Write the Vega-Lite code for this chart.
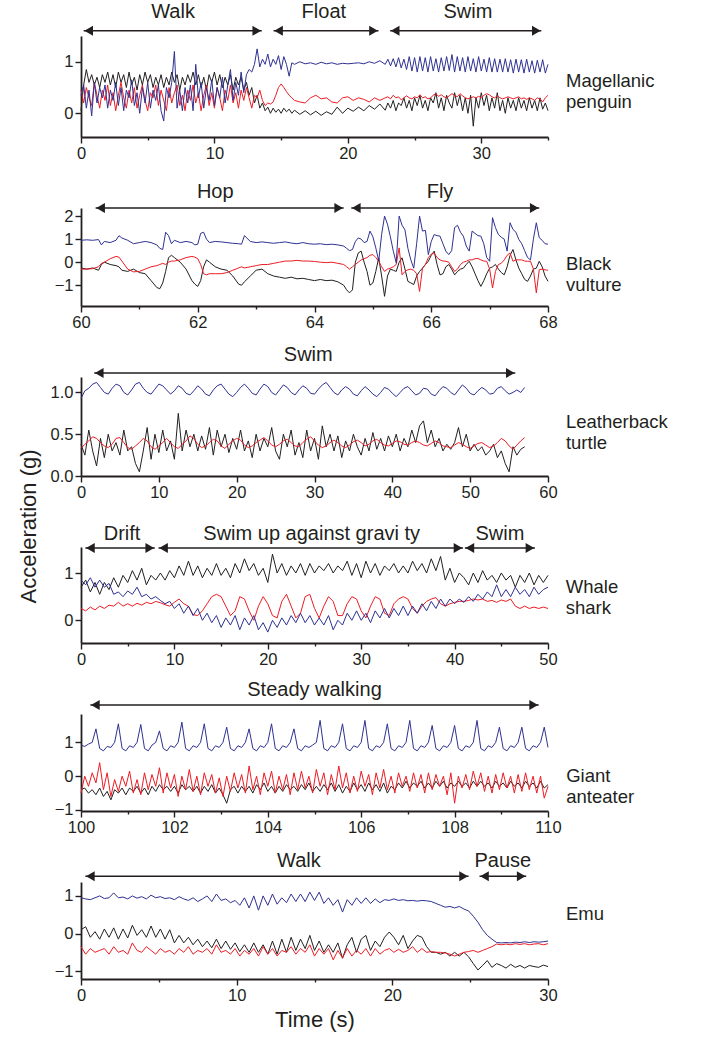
{
"$schema":"https://vega.github.io/schema/vega-lite/v6.json",
"padding":{"left":16,"top":2,"right":2,"bottom":2},
"bounds":"flush",
"spacing":71,
"config":{"view":{"stroke":null},"font":"Liberation Sans",
"axis":{"grid":false,"domainColor":"#231f20","domainWidth":1.8,"tickColor":"#231f20","tickWidth":1.4,"labelFontSize":16.5,"labelColor":"#231f20","labelFont":"Liberation Sans","titleFont":"Liberation Sans","titleFontWeight":"normal","titleColor":"#231f20","labelOverlap":false,"labelBound":false,"labelFlush":false},
"axisY":{"labelOverlap":false},
"text":{"font":"Liberation Sans","color":"#231f20"}},
"vconcat":[
{"width":467,"height":101,
"layer":[
{"data":{"values":[{"t":0,"b":0.35,"r":0.45,"k":0.05},{"t":0.2,"b":0.55,"r":0.2,"k":0.55},{"t":0.4,"b":0.1,"r":0.5,"k":0.85},{"t":0.6,"b":0.45,"r":0.3,"k":0.6},{"t":0.8,"b":-0.05,"r":0.15,"k":0.75},{"t":1,"b":0.6,"r":0.6,"k":0.55},{"t":1.2,"b":0.2,"r":0.35,"k":0.7},{"t":1.4,"b":0.5,"r":0.1,"k":0.5},{"t":1.6,"b":0.3,"r":0.45,"k":0.75},{"t":1.8,"b":0.55,"r":0.25,"k":0.6},{"t":2,"b":0.1,"r":0.55,"k":0.8},{"t":2.2,"b":0.45,"r":0.15,"k":0.55},{"t":2.4,"b":0.25,"r":0.4,"k":0.75},{"t":2.6,"b":0.6,"r":0.05,"k":0.5},{"t":2.8,"b":0.15,"r":0.35,"k":0.8},{"t":3,"b":0.5,"r":0.6,"k":0.6},{"t":3.2,"b":0.05,"r":0.3,"k":0.75},{"t":3.4,"b":0.45,"r":0.1,"k":0.5},{"t":3.6,"b":0.3,"r":0.45,"k":0.8},{"t":3.8,"b":0.65,"r":0.2,"k":0.55},{"t":4,"b":0.15,"r":0.5,"k":0.7},{"t":4.2,"b":0.4,"r":0.1,"k":0.45},{"t":4.4,"b":0,"r":0.35,"k":0.75},{"t":4.6,"b":0.5,"r":0.55,"k":0.55},{"t":4.8,"b":0.2,"r":0.25,"k":0.8},{"t":5,"b":0.6,"r":0.05,"k":0.6},{"t":5.2,"b":0.1,"r":0.4,"k":0.75},{"t":5.4,"b":0.45,"r":0.3,"k":0.5},{"t":5.6,"b":0.25,"r":0.55,"k":0.7},{"t":5.8,"b":0.55,"r":0.15,"k":0.55},{"t":6,"b":0.05,"r":0.45,"k":0.75},{"t":6.2,"b":-0.15,"r":0.25,"k":0.5},{"t":6.4,"b":0.5,"r":0.05,"k":0.7},{"t":6.6,"b":0.3,"r":0.5,"k":0.55},{"t":6.8,"b":0.6,"r":0.2,"k":0.8},{"t":7,"b":1.2,"r":0.4,"k":0.6},{"t":7.2,"b":0.1,"r":0.55,"k":0.75},{"t":7.4,"b":0.45,"r":0.15,"k":0.45},{"t":7.6,"b":0.05,"r":0.35,"k":0.7},{"t":7.8,"b":0.5,"r":0.05,"k":0.55},{"t":8,"b":0.2,"r":0.45,"k":0.75},{"t":8.2,"b":0.55,"r":0.25,"k":0.6},{"t":8.4,"b":0.05,"r":0.55,"k":0.8},{"t":8.6,"b":0.95,"r":0.2,"k":0.55},{"t":8.8,"b":0.3,"r":0.4,"k":0.75},{"t":9,"b":0.6,"r":0.05,"k":0.5},{"t":9.2,"b":0.1,"r":0.35,"k":0.7},{"t":9.4,"b":0.5,"r":0.55,"k":0.45},{"t":9.6,"b":0.25,"r":0.15,"k":0.75},{"t":9.8,"b":0.65,"r":0.4,"k":0.6},{"t":10,"b":0.15,"r":0.1,"k":0.8},{"t":10.2,"b":0.5,"r":0.5,"k":0.55},{"t":10.4,"b":0.3,"r":0.3,"k":0.75},{"t":10.6,"b":0.7,"r":0.05,"k":0.5},{"t":10.8,"b":0.2,"r":0.45,"k":0.7},{"t":11,"b":0.55,"r":0.25,"k":0.55},{"t":11.2,"b":0.85,"r":0.55,"k":0.75},{"t":11.4,"b":0.25,"r":0.2,"k":0.45},{"t":11.6,"b":0.6,"r":0.4,"k":0.7},{"t":11.8,"b":0.35,"r":0.1,"k":0.55},{"t":12,"b":0.8,"r":0.45,"k":0.7},{"t":12.2,"b":0.4,"r":0.25,"k":0.45},{"t":12.4,"b":0.75,"r":0.5,"k":0.6},{"t":12.6,"b":0.85,"r":0.3,"k":0.35},{"t":12.8,"b":0.8,"r":0.1,"k":0.5},{"t":13,"b":0.95,"r":0.35,"k":0.2},{"t":13.2,"b":1.25,"r":0.3,"k":0.35},{"t":13.4,"b":0.9,"r":0.45,"k":0.1},{"t":13.6,"b":1.05,"r":0.25,"k":0.2},{"t":13.8,"b":0.95,"r":0.15,"k":0.05},{"t":14,"b":1.15,"r":0.2,"k":0.12},{"t":14.2,"b":0.9,"r":0.18,"k":0},{"t":14.4,"b":1.05,"r":0.22,"k":0.1},{"t":14.6,"b":0.95,"r":0.35,"k":0.02},{"t":14.8,"b":1.12,"r":0.5,"k":0.08},{"t":15,"b":0.85,"r":0.57,"k":0},{"t":15.2,"b":1.1,"r":0.5,"k":0.1},{"t":15.4,"b":0.95,"r":0.42,"k":0.03},{"t":15.6,"b":0.72,"r":0.35,"k":0.08},{"t":15.8,"b":0.98,"r":0.3,"k":0},{"t":16,"b":0.95,"r":0.25,"k":0.06},{"t":16.4,"b":1,"r":0.22,"k":-0.02},{"t":16.8,"b":0.96,"r":0.2,"k":0.05},{"t":17.2,"b":0.98,"r":0.3,"k":-0.03},{"t":17.6,"b":0.95,"r":0.35,"k":0.04},{"t":18,"b":0.99,"r":0.28,"k":-0.04},{"t":18.4,"b":0.96,"r":0.3,"k":0.03},{"t":18.8,"b":0.98,"r":0.22,"k":-0.02},{"t":19.2,"b":0.95,"r":0.2,"k":0.12},{"t":19.6,"b":0.97,"r":0.3,"k":0},{"t":20,"b":0.96,"r":0.32,"k":0.1},{"t":20.4,"b":0.97,"r":0.25,"k":0.04},{"t":20.8,"b":0.98,"r":0.3,"k":0.12},{"t":21.2,"b":0.96,"r":0.27,"k":0.05},{"t":21.6,"b":1,"r":0.22,"k":0.15},{"t":22,"b":0.97,"r":0.3,"k":0.08},{"t":22.4,"b":1.02,"r":0.25,"k":0.18},{"t":22.8,"b":0.95,"r":0.3,"k":0.06},{"t":23,"b":1.05,"r":0.32,"k":0.2},{"t":23.2,"b":0.92,"r":0.28,"k":0.1},{"t":23.4,"b":1.06,"r":0.35,"k":0.25},{"t":23.6,"b":0.9,"r":0.3,"k":0.05},{"t":23.8,"b":1.08,"r":0.32,"k":0.2},{"t":24,"b":0.88,"r":0.26,"k":0.15},{"t":24.2,"b":1.05,"r":0.3,"k":0.3},{"t":24.4,"b":0.85,"r":0.34,"k":0.1},{"t":24.6,"b":1.1,"r":0.3,"k":0.25},{"t":24.8,"b":0.82,"r":0.28,"k":0.05},{"t":25,"b":1.08,"r":0.32,"k":0.3},{"t":25.2,"b":0.8,"r":0.3,"k":0.15},{"t":25.4,"b":1.1,"r":0.36,"k":0.35},{"t":25.6,"b":0.82,"r":0.3,"k":0.1},{"t":25.8,"b":1.08,"r":0.32,"k":0.25},{"t":26,"b":0.8,"r":0.28,"k":0.05},{"t":26.2,"b":1.1,"r":0.3,"k":0.3},{"t":26.4,"b":0.82,"r":0.35,"k":0.2},{"t":26.6,"b":1.06,"r":0.38,"k":0.4},{"t":26.8,"b":0.8,"r":0.33,"k":0.1},{"t":27,"b":1.08,"r":0.36,"k":0.3},{"t":27.2,"b":0.82,"r":0.32,"k":0.05},{"t":27.4,"b":1.1,"r":0.3,"k":0.35},{"t":27.6,"b":0.83,"r":0.34,"k":0.2},{"t":27.8,"b":1.14,"r":0.38,"k":0.1},{"t":28,"b":0.8,"r":0.35,"k":0.4},{"t":28.2,"b":1.1,"r":0.32,"k":0.15},{"t":28.4,"b":0.82,"r":0.38,"k":0.35},{"t":28.6,"b":1.08,"r":0.34,"k":0.05},{"t":28.8,"b":0.8,"r":0.3,"k":0.3},{"t":29,"b":1.1,"r":0.28,"k":0},{"t":29.2,"b":0.82,"r":0.3,"k":0.35},{"t":29.4,"b":1.06,"r":0.32,"k":-0.25},{"t":29.6,"b":0.8,"r":0.3,"k":0.3},{"t":29.8,"b":1.1,"r":0.33,"k":0.1},{"t":30,"b":0.82,"r":0.3,"k":0.4},{"t":30.2,"b":1.05,"r":0.35,"k":0.15},{"t":30.4,"b":0.8,"r":0.38,"k":0.35},{"t":30.6,"b":1.08,"r":0.36,"k":0.05},{"t":30.8,"b":0.8,"r":0.32,"k":0.3},{"t":31,"b":1.06,"r":0.3,"k":0.1},{"t":31.2,"b":0.8,"r":0.34,"k":0.4},{"t":31.4,"b":1.05,"r":0.3,"k":0.05},{"t":31.6,"b":0.8,"r":0.28,"k":0.25},{"t":31.8,"b":1.06,"r":0.3,"k":0},{"t":32,"b":0.8,"r":0.32,"k":0.3},{"t":32.2,"b":1.04,"r":0.3,"k":0.1},{"t":32.4,"b":0.78,"r":0.28,"k":0.25},{"t":32.6,"b":1.05,"r":0.3,"k":0.05},{"t":32.8,"b":0.8,"r":0.32,"k":0.3},{"t":33,"b":1.04,"r":0.28,"k":0.1},{"t":33.2,"b":0.78,"r":0.3,"k":0.25},{"t":33.4,"b":1.05,"r":0.27,"k":0.05},{"t":33.6,"b":0.8,"r":0.3,"k":0.3},{"t":33.8,"b":1.02,"r":0.28,"k":0.1},{"t":34,"b":0.78,"r":0.25,"k":0.25},{"t":34.2,"b":1.03,"r":0.3,"k":0.05},{"t":34.4,"b":0.8,"r":0.28,"k":0.3},{"t":34.6,"b":1.04,"r":0.22,"k":0.08},{"t":34.8,"b":0.78,"r":0.3,"k":0.2},{"t":35,"b":0.95,"r":0.35,"k":0.05}]},
"transform":[{"fold":["k","r","b"],"as":["s","v"]}],
"mark":{"type":"line","strokeWidth":1},
"encoding":{"x":{"field":"t","type":"quantitative","scale":{"domain":[0,35],"nice":false,"zero":false},"axis":{"title":null,"format":"d","labelOverlap":false,"values":[0,5,10,15,20,25,30,35],"labelExpr":"datum.value % 10 === 0 ? datum.label : ''","tickSize":{"condition":{"test":"datum.value % 10 !== 0","value":3},"value":6}}},
"y":{"field":"v","type":"quantitative","scale":{"domain":[-0.46,1.5],"nice":false,"zero":false},"axis":{"title":null,"format":"d","labelOverlap":false,"values":[0,1],"tickSize":6}},
"color":{"field":"s","type":"nominal","scale":{"domain":["b","r","k"],"range":["#2e3192","#ed1c24","#231f20"]},"legend":null}}},
{"data":{"values":[{"s":0.2,"e":13.55,"m":6.9,"l":"Walk"},{"s":14.43,"e":22.3,"m":18.2,"l":"Float"},{"s":23.17,"e":34.5,"m":29.0,"l":"Swim"}]},
"layer":[
{"mark":{"type":"rule","color":"#231f20","strokeWidth":1.5},"encoding":{"x":{"field":"s","type":"quantitative"},"x2":{"field":"e"},"y":{"datum":1.6}}},
{"mark":{"type":"point","shape":"triangle-left","filled":true,"size":100,"color":"#231f20","opacity":1,"xOffset":5},"encoding":{"x":{"field":"s","type":"quantitative"},"y":{"datum":1.6}}},
{"mark":{"type":"point","shape":"triangle-right","filled":true,"size":100,"color":"#231f20","opacity":1,"xOffset":-5},"encoding":{"x":{"field":"e","type":"quantitative"},"y":{"datum":1.6}}},
{"mark":{"type":"text","fontSize":20,"baseline":"middle"},"encoding":{"x":{"field":"m","type":"quantitative"},"y":{"datum":1.965},"text":{"field":"l"}}}]},
{"data":{"values":[{}]},"mark":{"type":"text","align":"left","baseline":"middle","fontSize":18.5,"lineHeight":21,"text":["Magellanic","penguin"]},"encoding":{"x":{"datum":36.35},"y":{"datum":0.62}}}
]},
{"width":467,"height":98,
"layer":[
{"data":{"values":[{"t":60,"b":0.95,"r":-0.3,"k":-0.25},{"t":60.1,"b":0.97,"r":-0.3,"k":-0.3},{"t":60.2,"b":0.95,"r":-0.28,"k":-0.25},{"t":60.3,"b":0.98,"r":-0.2,"k":-0.35},{"t":60.35,"b":0.75,"r":-0.05,"k":-0.1},{"t":60.4,"b":0.9,"r":0,"k":0},{"t":60.5,"b":0.85,"r":0.15,"k":-0.1},{"t":60.6,"b":0.95,"r":0.25,"k":-0.15},{"t":60.65,"b":1.15,"r":0.22,"k":-0.2},{"t":60.7,"b":1.05,"r":0.05,"k":-0.35},{"t":60.8,"b":0.95,"r":-0.3,"k":-0.4},{"t":60.9,"b":0.8,"r":-0.42,"k":-0.3},{"t":61,"b":0.85,"r":-0.4,"k":-0.45},{"t":61.1,"b":0.9,"r":-0.3,"k":-0.5},{"t":61.2,"b":0.85,"r":-0.2,"k":-0.8},{"t":61.3,"b":0.75,"r":-0.15,"k":-1.1},{"t":61.35,"b":0.6,"r":-0.1,"k":-1.15},{"t":61.4,"b":0.55,"r":-0.05,"k":-0.9},{"t":61.45,"b":1.3,"r":-0.1,"k":-0.4},{"t":61.5,"b":1.15,"r":0,"k":0.2},{"t":61.55,"b":0.8,"r":0.05,"k":0.3},{"t":61.6,"b":0.95,"r":0.05,"k":0.2},{"t":61.7,"b":0.85,"r":0.1,"k":0},{"t":61.8,"b":0.9,"r":0.2,"k":-0.3},{"t":61.9,"b":0.85,"r":0.25,"k":-0.8},{"t":61.95,"b":0.75,"r":0.22,"k":-0.95},{"t":62,"b":0.78,"r":0.15,"k":-1.05},{"t":62.05,"b":1.25,"r":-0.1,"k":-0.8},{"t":62.1,"b":1.3,"r":-0.5,"k":-0.2},{"t":62.15,"b":1,"r":-0.55,"k":0.1},{"t":62.2,"b":0.85,"r":-0.5,"k":0},{"t":62.3,"b":0.9,"r":-0.5,"k":-0.2},{"t":62.4,"b":0.88,"r":-0.5,"k":-0.3},{"t":62.5,"b":0.85,"r":-0.45,"k":-0.35},{"t":62.6,"b":0.82,"r":-0.35,"k":-0.6},{"t":62.7,"b":0.8,"r":-0.25,"k":-0.95},{"t":62.75,"b":0.78,"r":-0.2,"k":-1},{"t":62.8,"b":1.15,"r":-0.25,"k":-0.85},{"t":62.9,"b":0.9,"r":-0.2,"k":-0.6},{"t":63,"b":0.85,"r":-0.15,"k":-0.35},{"t":63.1,"b":0.88,"r":-0.1,"k":-0.3},{"t":63.2,"b":0.85,"r":-0.1,"k":-0.5},{"t":63.3,"b":0.82,"r":-0.05,"k":-0.6},{"t":63.4,"b":0.85,"r":0,"k":-0.65},{"t":63.5,"b":0.88,"r":0.05,"k":-0.7},{"t":63.6,"b":0.83,"r":0.05,"k":-0.65},{"t":63.7,"b":0.8,"r":0.08,"k":-0.72},{"t":63.8,"b":0.85,"r":0.05,"k":-0.7},{"t":63.9,"b":0.8,"r":0.05,"k":-0.75},{"t":64,"b":0.78,"r":0.03,"k":-0.8},{"t":64.1,"b":0.8,"r":0,"k":-0.75},{"t":64.2,"b":0.76,"r":-0.02,"k":-0.8},{"t":64.3,"b":0.78,"r":0,"k":-0.78},{"t":64.4,"b":0.75,"r":-0.05,"k":-0.85},{"t":64.5,"b":0.7,"r":-0.1,"k":-1},{"t":64.55,"b":0.6,"r":-0.2,"k":-1.2},{"t":64.6,"b":0.5,"r":-0.3,"k":-1.33},{"t":64.65,"b":0.55,"r":-0.2,"k":-1.2},{"t":64.7,"b":0.9,"r":-0.1,"k":0},{"t":64.75,"b":1.05,"r":0,"k":0.4},{"t":64.8,"b":1,"r":0.1,"k":0.48},{"t":64.85,"b":0.85,"r":0.15,"k":0},{"t":64.9,"b":0.9,"r":0.2,"k":-0.4},{"t":64.95,"b":1.35,"r":0.3,"k":-1},{"t":65,"b":1.1,"r":0.33,"k":-0.9},{"t":65.05,"b":0.62,"r":0.2,"k":-0.4},{"t":65.1,"b":0.05,"r":0.04,"k":0.19},{"t":65.15,"b":1.2,"r":-0.2,"k":-0.6},{"t":65.2,"b":2,"r":-0.4,"k":-1.48},{"t":65.25,"b":1.65,"r":-0.3,"k":-0.6},{"t":65.3,"b":1.1,"r":-0.26,"k":-0.3},{"t":65.35,"b":0.48,"r":-0.2,"k":-0.35},{"t":65.4,"b":-0.03,"r":-0.1,"k":-0.4},{"t":65.45,"b":2,"r":0.62,"k":0},{"t":65.5,"b":1.6,"r":-0.55,"k":0.19},{"t":65.55,"b":1.4,"r":-0.4,"k":-0.3},{"t":65.6,"b":0.6,"r":-0.33,"k":-0.83},{"t":65.65,"b":0.1,"r":-0.3,"k":-0.9},{"t":65.7,"b":-0.26,"r":-0.35,"k":-0.97},{"t":65.75,"b":0.8,"r":-0.5,"k":-0.6},{"t":65.8,"b":2,"r":-1.27,"k":-0.4},{"t":65.85,"b":1.35,"r":-0.26,"k":-0.26},{"t":65.9,"b":1.38,"r":-0.1,"k":-0.1},{"t":65.95,"b":0.33,"r":0.2,"k":0.04},{"t":66,"b":0.9,"r":0.35,"k":0.3},{"t":66.05,"b":1.2,"r":0.4,"k":0.48},{"t":66.1,"b":1.15,"r":0.2,"k":-0.1},{"t":66.15,"b":1.13,"r":0.1,"k":-0.55},{"t":66.2,"b":0.8,"r":0.05,"k":-0.5},{"t":66.25,"b":0.48,"r":0.04,"k":-0.2},{"t":66.3,"b":0.33,"r":0,"k":-0.1},{"t":66.35,"b":0.5,"r":-0.2,"k":-0.3},{"t":66.4,"b":1.5,"r":-0.4,"k":-0.55},{"t":66.45,"b":1.6,"r":-0.3,"k":-0.4},{"t":66.5,"b":1.3,"r":-0.1,"k":-0.3},{"t":66.55,"b":1.13,"r":0,"k":-0.26},{"t":66.6,"b":0.7,"r":0.04,"k":-0.1},{"t":66.65,"b":0.48,"r":0.1,"k":0.04},{"t":66.7,"b":1.35,"r":0.1,"k":-0.2},{"t":66.75,"b":1.25,"r":0.15,"k":-0.5},{"t":66.8,"b":1.15,"r":0.16,"k":-0.8},{"t":66.85,"b":1.13,"r":0.1,"k":-1.05},{"t":66.9,"b":0.8,"r":0.05,"k":-0.8},{"t":66.95,"b":0.2,"r":0.04,"k":-0.5},{"t":67,"b":0.04,"r":-0.3,"k":-0.26},{"t":67.05,"b":1.93,"r":-1.12,"k":-0.2},{"t":67.1,"b":1.5,"r":-0.4,"k":-0.1},{"t":67.15,"b":1.2,"r":-0.1,"k":-0.3},{"t":67.2,"b":1.08,"r":-0.05,"k":-0.45},{"t":67.25,"b":1,"r":0.1,"k":-0.55},{"t":67.3,"b":0.48,"r":0.3,"k":-0.2},{"t":67.35,"b":1.71,"r":0.4,"k":0.3},{"t":67.4,"b":1.42,"r":0.04,"k":0.55},{"t":67.45,"b":1.3,"r":0.1,"k":0.1},{"t":67.5,"b":0.99,"r":0.1,"k":-0.26},{"t":67.55,"b":0.8,"r":0.1,"k":-0.5},{"t":67.6,"b":0.5,"r":0.05,"k":-0.75},{"t":67.65,"b":0.2,"r":0.04,"k":-0.83},{"t":67.7,"b":0.1,"r":0.04,"k":-0.6},{"t":67.75,"b":1,"r":-0.3,"k":-0.3},{"t":67.8,"b":1.71,"r":-1.33,"k":-0.26},{"t":67.85,"b":1.06,"r":-0.33,"k":0.04},{"t":67.9,"b":0.95,"r":-0.3,"k":-0.2},{"t":67.95,"b":0.8,"r":-0.33,"k":-0.6},{"t":68,"b":0.78,"r":-0.35,"k":-0.83}]},
"transform":[{"fold":["k","r","b"],"as":["s","v"]}],
"mark":{"type":"line","strokeWidth":1},
"encoding":{"x":{"field":"t","type":"quantitative","scale":{"domain":[60,68],"nice":false,"zero":false},"axis":{"title":null,"format":"d","labelOverlap":false,"values":[60,61,62,63,64,65,66,67,68],"labelExpr":"datum.value % 2 === 0 ? datum.label : ''","tickSize":{"condition":{"test":"datum.value % 2 !== 0","value":3},"value":6}}},
"y":{"field":"v","type":"quantitative","scale":{"domain":[-1.9,2.35],"nice":false,"zero":false},"axis":{"title":null,"format":"d","labelOverlap":false,"labelSeparation":0,"values":[-1,0,1,2],"tickSize":6}},
"color":{"field":"s","type":"nominal","scale":{"domain":["b","r","k"],"range":["#2e3192","#ed1c24","#231f20"]},"legend":null}}},
{"data":{"values":[{"s":60.25,"e":64.5,"m":62.3,"l":"Hop"},{"s":64.63,"e":67.85,"m":66.15,"l":"Fly"}]},
"layer":[
{"mark":{"type":"rule","color":"#231f20","strokeWidth":1.5},"encoding":{"x":{"field":"s","type":"quantitative"},"x2":{"field":"e"},"y":{"datum":2.35,"axis":{"title":null,"format":"d","labelOverlap":false,"values":[-1,0,1,2],"tickSize":6}}}},
{"mark":{"type":"point","shape":"triangle-left","filled":true,"size":100,"color":"#231f20","opacity":1,"xOffset":5},"encoding":{"x":{"field":"s","type":"quantitative"},"y":{"datum":2.35,"axis":{"title":null,"format":"d","labelOverlap":false,"values":[-1,0,1,2],"tickSize":6}}}},
{"mark":{"type":"point","shape":"triangle-right","filled":true,"size":100,"color":"#231f20","opacity":1,"xOffset":-5},"encoding":{"x":{"field":"e","type":"quantitative"},"y":{"datum":2.35,"axis":{"title":null,"format":"d","labelOverlap":false,"values":[-1,0,1,2],"tickSize":6}}}},
{"mark":{"type":"text","fontSize":20,"baseline":"middle"},"encoding":{"x":{"field":"m","type":"quantitative"},"y":{"datum":3.05,"axis":{"title":null,"format":"d","labelOverlap":false,"values":[-1,0,1,2],"tickSize":6}},"text":{"field":"l"}}}]},
{"data":{"values":[{}]},"mark":{"type":"text","align":"left","baseline":"middle","fontSize":18.5,"lineHeight":21,"text":["Black","vulture"]},"encoding":{"x":{"datum":68.31},"y":{"datum":-0.09,"axis":{"title":null,"format":"d","labelOverlap":false,"values":[-1,0,1,2],"tickSize":6}}}}
]},
{"width":467,"height":99,
"layer":[
{"data":{"values":[{"t":0,"b":0.93,"r":0.33,"k":0.38},{"t":0.5,"b":1.02,"r":0.38,"k":0.25},{"t":1,"b":1.05,"r":0.42,"k":0.55},{"t":1.5,"b":1.1,"r":0.47,"k":0.3},{"t":2,"b":1.12,"r":0.45,"k":0.12},{"t":2.5,"b":1.06,"r":0.4,"k":0.45},{"t":3,"b":1,"r":0.36,"k":0.22},{"t":3.5,"b":0.98,"r":0.34,"k":0.5},{"t":4,"b":1.05,"r":0.38,"k":0.3},{"t":4.5,"b":1.1,"r":0.45,"k":0.4},{"t":5,"b":1.08,"r":0.46,"k":0.25},{"t":5.5,"b":1,"r":0.4,"k":0.55},{"t":6,"b":0.97,"r":0.34,"k":0.3},{"t":6.5,"b":1.03,"r":0.32,"k":0.35},{"t":7,"b":1.1,"r":0.36,"k":0.15},{"t":7.5,"b":1.12,"r":0.4,"k":0.05},{"t":8,"b":1.05,"r":0.45,"k":0.3},{"t":8.5,"b":1,"r":0.42,"k":0.58},{"t":9,"b":0.98,"r":0.35,"k":0.2},{"t":9.5,"b":1.04,"r":0.32,"k":0.5},{"t":10,"b":1.1,"r":0.36,"k":0.28},{"t":10.5,"b":1.08,"r":0.4,"k":0.55},{"t":11,"b":1.03,"r":0.45,"k":0.3},{"t":11.5,"b":0.98,"r":0.4,"k":0.42},{"t":12,"b":1.02,"r":0.35,"k":0.2},{"t":12.5,"b":1.08,"r":0.33,"k":0.75},{"t":13,"b":1.05,"r":0.38,"k":0.3},{"t":13.5,"b":0.99,"r":0.42,"k":0.55},{"t":14,"b":0.97,"r":0.48,"k":0.35},{"t":14.5,"b":1.02,"r":0.45,"k":0.5},{"t":15,"b":1.08,"r":0.38,"k":0.3},{"t":15.5,"b":1.04,"r":0.34,"k":0.48},{"t":16,"b":0.98,"r":0.36,"k":0.32},{"t":16.5,"b":0.96,"r":0.4,"k":0.58},{"t":17,"b":1.03,"r":0.44,"k":0.25},{"t":17.5,"b":1.08,"r":0.42,"k":0.55},{"t":18,"b":1.1,"r":0.36,"k":0.35},{"t":18.5,"b":1.04,"r":0.33,"k":0.5},{"t":19,"b":0.98,"r":0.38,"k":0.28},{"t":19.5,"b":0.95,"r":0.42,"k":0.45},{"t":20,"b":1,"r":0.45,"k":0.32},{"t":20.5,"b":1.06,"r":0.43,"k":0.55},{"t":21,"b":1.1,"r":0.37,"k":0.3},{"t":21.5,"b":1.05,"r":0.34,"k":0.42},{"t":22,"b":0.99,"r":0.36,"k":0.22},{"t":22.5,"b":0.97,"r":0.4,"k":0.5},{"t":23,"b":1.04,"r":0.43,"k":0.3},{"t":23.5,"b":1.1,"r":0.46,"k":0.45},{"t":24,"b":1.07,"r":0.42,"k":0.35},{"t":24.5,"b":1,"r":0.37,"k":0.58},{"t":25,"b":0.97,"r":0.35,"k":0.3},{"t":25.5,"b":1.03,"r":0.38,"k":0.2},{"t":26,"b":1.09,"r":0.42,"k":0.5},{"t":26.5,"b":1.06,"r":0.44,"k":0.35},{"t":27,"b":1,"r":0.4,"k":0.55},{"t":27.5,"b":0.97,"r":0.36,"k":0.25},{"t":28,"b":1.03,"r":0.35,"k":0.4},{"t":28.5,"b":1.08,"r":0.4,"k":0.22},{"t":29,"b":1.05,"r":0.44,"k":0.55},{"t":29.5,"b":0.99,"r":0.47,"k":0.3},{"t":30,"b":0.98,"r":0.42,"k":0.45},{"t":30.5,"b":1.04,"r":0.37,"k":0.2},{"t":31,"b":1.09,"r":0.34,"k":0.6},{"t":31.5,"b":1.12,"r":0.36,"k":0.35},{"t":32,"b":1.06,"r":0.4,"k":0.5},{"t":32.5,"b":1,"r":0.43,"k":0.3},{"t":33,"b":0.97,"r":0.4,"k":0.48},{"t":33.5,"b":1.03,"r":0.36,"k":0.22},{"t":34,"b":1.07,"r":0.34,"k":0.42},{"t":34.5,"b":1.04,"r":0.37,"k":0.3},{"t":35,"b":0.98,"r":0.41,"k":0.5},{"t":35.5,"b":0.96,"r":0.43,"k":0.35},{"t":36,"b":1.02,"r":0.4,"k":0.25},{"t":36.5,"b":1.07,"r":0.36,"k":0.45},{"t":37,"b":1.03,"r":0.38,"k":0.3},{"t":37.5,"b":0.98,"r":0.42,"k":0.52},{"t":38,"b":0.95,"r":0.44,"k":0.32},{"t":38.5,"b":1,"r":0.4,"k":0.45},{"t":39,"b":1.06,"r":0.37,"k":0.3},{"t":39.5,"b":1.04,"r":0.36,"k":0.48},{"t":40,"b":0.99,"r":0.39,"k":0.35},{"t":40.5,"b":0.95,"r":0.42,"k":0.5},{"t":41,"b":1,"r":0.41,"k":0.3},{"t":41.5,"b":1.05,"r":0.38,"k":0.45},{"t":42,"b":1.07,"r":0.37,"k":0.35},{"t":42.5,"b":1.02,"r":0.4,"k":0.55},{"t":43,"b":0.97,"r":0.42,"k":0.4},{"t":43.5,"b":0.99,"r":0.4,"k":0.6},{"t":44,"b":1.05,"r":0.37,"k":0.66},{"t":44.5,"b":1.04,"r":0.36,"k":0.4},{"t":45,"b":0.98,"r":0.39,"k":0.55},{"t":45.5,"b":0.96,"r":0.42,"k":0.35},{"t":46,"b":1.02,"r":0.4,"k":0.45},{"t":46.5,"b":1.07,"r":0.36,"k":0.3},{"t":47,"b":1.05,"r":0.35,"k":0.38},{"t":47.5,"b":1,"r":0.34,"k":0.32},{"t":48,"b":0.97,"r":0.37,"k":0.4},{"t":48.5,"b":1.03,"r":0.4,"k":0.58},{"t":49,"b":1.09,"r":0.38,"k":0.35},{"t":49.5,"b":1.05,"r":0.35,"k":0.5},{"t":50,"b":0.99,"r":0.33,"k":0.3},{"t":50.5,"b":0.97,"r":0.36,"k":0.38},{"t":51,"b":1.02,"r":0.39,"k":0.3},{"t":51.5,"b":1.06,"r":0.4,"k":0.35},{"t":52,"b":1.03,"r":0.37,"k":0.25},{"t":52.5,"b":0.98,"r":0.34,"k":0.3},{"t":53,"b":0.99,"r":0.36,"k":0.38},{"t":53.5,"b":1.05,"r":0.4,"k":0.22},{"t":54,"b":1.07,"r":0.45,"k":0.3},{"t":54.5,"b":1.02,"r":0.42,"k":0.15},{"t":55,"b":0.98,"r":0.36,"k":0.05},{"t":55.5,"b":1,"r":0.32,"k":0.35},{"t":56,"b":1.03,"r":0.37,"k":0.25},{"t":56.5,"b":1,"r":0.42,"k":0.32},{"t":57,"b":1.06,"r":0.46,"k":0.35}]},
"transform":[{"fold":["k","r","b"],"as":["s","v"]}],
"mark":{"type":"line","strokeWidth":1},
"encoding":{"x":{"field":"t","type":"quantitative","scale":{"domain":[0,60],"nice":false,"zero":false},"axis":{"title":null,"format":"d","labelOverlap":false,"values":[0,5,10,15,20,25,30,35,40,45,50,55,60],"labelExpr":"datum.value % 10 === 0 ? datum.label : ''","tickSize":{"condition":{"test":"datum.value % 10 !== 0","value":3},"value":6}}},
"y":{"field":"v","type":"quantitative","scale":{"domain":[0,1.185],"nice":false,"zero":false},"axis":{"title":null,"values":[0,0.5,1],"format":".1f","labelOverlap":false,"tickSize":6}},
"color":{"field":"s","type":"nominal","scale":{"domain":["b","r","k"],"range":["#2e3192","#ed1c24","#231f20"]},"legend":null}}},
{"data":{"values":[{"s":1.7,"e":55.8,"m":29.2,"l":"Swim"}]},
"layer":[
{"mark":{"type":"rule","color":"#231f20","strokeWidth":1.5},"encoding":{"x":{"field":"s","type":"quantitative"},"x2":{"field":"e"},"y":{"datum":1.233}}},
{"mark":{"type":"point","shape":"triangle-left","filled":true,"size":100,"color":"#231f20","opacity":1,"xOffset":5},"encoding":{"x":{"field":"s","type":"quantitative"},"y":{"datum":1.233}}},
{"mark":{"type":"point","shape":"triangle-right","filled":true,"size":100,"color":"#231f20","opacity":1,"xOffset":-5},"encoding":{"x":{"field":"e","type":"quantitative"},"y":{"datum":1.233}}},
{"mark":{"type":"text","fontSize":20,"baseline":"middle"},"encoding":{"x":{"field":"m","type":"quantitative"},"y":{"datum":1.45},"text":{"field":"l"}}}]},
{"data":{"values":[{}]},"mark":{"type":"text","align":"left","baseline":"middle","fontSize":18.5,"lineHeight":21,"text":["Leatherback","turtle"]},"encoding":{"x":{"datum":62.3},"y":{"datum":0.65}}}
]},
{"width":467,"height":96,
"layer":[
{"data":{"values":[{"t":0,"b":0.85,"r":0.25,"k":0.7},{"t":0.5,"b":0.75,"r":0.2,"k":0.85},{"t":1,"b":0.9,"r":0.28,"k":0.6},{"t":1.5,"b":0.7,"r":0.22,"k":0.8},{"t":2,"b":0.85,"r":0.3,"k":0.55},{"t":2.5,"b":0.7,"r":0.25,"k":0.8},{"t":3,"b":0.78,"r":0.32,"k":0.65},{"t":3.5,"b":0.55,"r":0.3,"k":0.9},{"t":4,"b":0.6,"r":0.38,"k":0.7},{"t":4.5,"b":0.5,"r":0.3,"k":0.95},{"t":5,"b":0.62,"r":0.35,"k":0.8},{"t":5.5,"b":0.55,"r":0.3,"k":1.05},{"t":6,"b":0.7,"r":0.36,"k":0.85},{"t":6.5,"b":0.5,"r":0.32,"k":1.1},{"t":7,"b":0.55,"r":0.38,"k":0.75},{"t":7.5,"b":0.45,"r":0.35,"k":0.95},{"t":8,"b":0.5,"r":0.4,"k":0.85},{"t":8.5,"b":0.42,"r":0.37,"k":1},{"t":9,"b":0.35,"r":0.33,"k":0.85},{"t":9.5,"b":0.4,"r":0.3,"k":1.05},{"t":10,"b":0.25,"r":0.38,"k":0.9},{"t":10.5,"b":0.35,"r":0.45,"k":1.15},{"t":11,"b":0.15,"r":0.35,"k":0.95},{"t":11.5,"b":0.3,"r":0.3,"k":1.25},{"t":12,"b":0.1,"r":0.12,"k":0.95},{"t":12.5,"b":0.25,"r":0.1,"k":1.15},{"t":13,"b":0,"r":0.2,"k":0.9},{"t":13.5,"b":0.15,"r":0.35,"k":1.1},{"t":14,"b":-0.05,"r":0.5,"k":0.95},{"t":14.5,"b":0.1,"r":0.55,"k":1.2},{"t":15,"b":-0.15,"r":0.5,"k":0.95},{"t":15.5,"b":0.05,"r":0.3,"k":1.1},{"t":16,"b":-0.1,"r":0.1,"k":0.9},{"t":16.5,"b":0.1,"r":0.2,"k":1.2},{"t":17,"b":-0.2,"r":0.5,"k":1},{"t":17.5,"b":0.05,"r":0.45,"k":1.3},{"t":18,"b":-0.1,"r":0.2,"k":1.05},{"t":18.5,"b":0.1,"r":0,"k":1.2},{"t":19,"b":-0.2,"r":0.3,"k":0.95},{"t":19.5,"b":-0.05,"r":0.5,"k":1.1},{"t":20,"b":-0.25,"r":0.35,"k":0.8},{"t":20.5,"b":0,"r":0.1,"k":1.4},{"t":21,"b":-0.15,"r":0.05,"k":1},{"t":21.5,"b":0.05,"r":0.4,"k":1.2},{"t":22,"b":-0.1,"r":0.55,"k":0.95},{"t":22.5,"b":0.1,"r":0.3,"k":1.15},{"t":23,"b":-0.05,"r":0.05,"k":1},{"t":23.5,"b":0.15,"r":0.15,"k":1.2},{"t":24,"b":-0.05,"r":0.5,"k":0.95},{"t":24.5,"b":0.1,"r":0.55,"k":1.2},{"t":25,"b":-0.1,"r":0.25,"k":1},{"t":25.5,"b":0.05,"r":0.05,"k":1.15},{"t":26,"b":-0.1,"r":0.3,"k":1.05},{"t":26.5,"b":0.1,"r":0.5,"k":1.2},{"t":27,"b":-0.2,"r":0.4,"k":1},{"t":27.5,"b":0,"r":0.1,"k":1.15},{"t":28,"b":-0.1,"r":0.1,"k":1.05},{"t":28.5,"b":0.15,"r":0.35,"k":1.25},{"t":29,"b":0,"r":0.5,"k":0.95},{"t":29.5,"b":0.2,"r":0.45,"k":1.2},{"t":30,"b":0,"r":0.2,"k":0.9},{"t":30.5,"b":0.15,"r":0.05,"k":1.25},{"t":31,"b":-0.05,"r":0.3,"k":1},{"t":31.5,"b":0.2,"r":0.5,"k":1.2},{"t":32,"b":0.05,"r":0.45,"k":0.95},{"t":32.5,"b":0.25,"r":0.15,"k":1.15},{"t":33,"b":0.05,"r":0.1,"k":1.05},{"t":33.5,"b":0.25,"r":0.35,"k":1.2},{"t":34,"b":0.1,"r":0.45,"k":1},{"t":34.5,"b":0.3,"r":0.5,"k":1.15},{"t":35,"b":0.1,"r":0.45,"k":1},{"t":35.5,"b":0.3,"r":0.25,"k":1.25},{"t":36,"b":0.15,"r":0.15,"k":1.05},{"t":36.5,"b":0.35,"r":0.3,"k":1.2},{"t":37,"b":0.2,"r":0.4,"k":1},{"t":37.5,"b":0.4,"r":0.45,"k":1.3},{"t":38,"b":0.25,"r":0.48,"k":1.05},{"t":38.5,"b":0.45,"r":0.35,"k":1.35},{"t":39,"b":0.3,"r":0.3,"k":0.85},{"t":39.5,"b":0.45,"r":0.35,"k":1.1},{"t":40,"b":0.35,"r":0.38,"k":0.8},{"t":40.5,"b":0.45,"r":0.4,"k":1},{"t":41,"b":0.38,"r":0.4,"k":0.9},{"t":41.5,"b":0.5,"r":0.42,"k":0.75},{"t":42,"b":0.4,"r":0.45,"k":1},{"t":42.5,"b":0.55,"r":0.43,"k":0.8},{"t":43,"b":0.45,"r":0.45,"k":1.05},{"t":43.5,"b":0.6,"r":0.4,"k":0.85},{"t":44,"b":0.5,"r":0.42,"k":0.95},{"t":44.5,"b":0.75,"r":0.38,"k":0.8},{"t":45,"b":0.5,"r":0.43,"k":1},{"t":45.5,"b":0.65,"r":0.4,"k":0.85},{"t":46,"b":0.5,"r":0.45,"k":0.95},{"t":46.5,"b":0.7,"r":0.3,"k":0.7},{"t":47,"b":0.55,"r":0.25,"k":0.95},{"t":47.5,"b":0.65,"r":0.3,"k":0.8},{"t":48,"b":0.5,"r":0.25,"k":1},{"t":48.5,"b":0.7,"r":0.28,"k":0.75},{"t":49,"b":0.55,"r":0.25,"k":0.95},{"t":49.5,"b":0.65,"r":0.28,"k":0.8},{"t":50,"b":0.7,"r":0.25,"k":0.95}]},
"transform":[{"fold":["k","r","b"],"as":["s","v"]}],
"mark":{"type":"line","strokeWidth":1},
"encoding":{"x":{"field":"t","type":"quantitative","scale":{"domain":[0,50],"nice":false,"zero":false},"axis":{"title":null,"format":"d","labelOverlap":false,"values":[0,5,10,15,20,25,30,35,40,45,50],"labelExpr":"datum.value % 10 === 0 ? datum.label : ''","tickSize":{"condition":{"test":"datum.value % 10 !== 0","value":3},"value":6}}},
"y":{"field":"v","type":"quantitative","scale":{"domain":[-0.48,1.55],"nice":false,"zero":false},"axis":{"title":"Acceleration (g)","titleFontSize":22,"titleAngle":270,"titleX":-53,"titleY":-21,"titleAlign":"center","titleBaseline":"middle","format":"d","labelOverlap":false,"values":[0,1],"tickSize":6}},
"color":{"field":"s","type":"nominal","scale":{"domain":["b","r","k"],"range":["#2e3192","#ed1c24","#231f20"]},"legend":null}}},
{"data":{"values":[{"s":0.47,"e":7.9,"m":4.4,"l":"Drift"},{"s":8.3,"e":40.9,"m":24.7,"l":"Swim up against gravi ty"},{"s":41.1,"e":48.6,"m":44.85,"l":"Swim"}]},
"layer":[
{"mark":{"type":"rule","color":"#231f20","strokeWidth":1.5},"encoding":{"x":{"field":"s","type":"quantitative"},"x2":{"field":"e"},"y":{"datum":1.53}}},
{"mark":{"type":"point","shape":"triangle-left","filled":true,"size":100,"color":"#231f20","opacity":1,"xOffset":5},"encoding":{"x":{"field":"s","type":"quantitative"},"y":{"datum":1.53}}},
{"mark":{"type":"point","shape":"triangle-right","filled":true,"size":100,"color":"#231f20","opacity":1,"xOffset":-5},"encoding":{"x":{"field":"e","type":"quantitative"},"y":{"datum":1.53}}},
{"mark":{"type":"text","fontSize":20,"baseline":"middle"},"encoding":{"x":{"field":"m","type":"quantitative"},"y":{"datum":1.82},"text":{"field":"l"}}}]},
{"data":{"values":[{}]},"mark":{"type":"text","align":"left","baseline":"middle","fontSize":18.5,"lineHeight":21,"text":["Whale","shark"]},"encoding":{"x":{"datum":51.9},"y":{"datum":0.71}}}
]},
{"width":467,"height":97,
"layer":[
{"data":{"values":[{"t":100,"b":0.92,"r":-0.5,"k":-0.4},{"t":100.08,"b":0.88,"r":0,"k":-0.35},{"t":100.16,"b":0.95,"r":-0.3,"k":-0.5},{"t":100.24,"b":1,"r":0.1,"k":-0.4},{"t":100.32,"b":1.4,"r":-0.2,"k":-0.55},{"t":100.4,"b":0.82,"r":0.4,"k":-0.35},{"t":100.48,"b":0.75,"r":-0.4,"k":-0.6},{"t":100.56,"b":0.88,"r":0.1,"k":-0.45},{"t":100.64,"b":0.85,"r":-0.6,"k":-0.7},{"t":100.72,"b":1,"r":-0.1,"k":-0.4},{"t":100.8,"b":1.55,"r":-0.45,"k":-0.5},{"t":100.88,"b":0.82,"r":0,"k":-0.35},{"t":100.96,"b":0.75,"r":-0.3,"k":-0.55},{"t":101.04,"b":0.9,"r":0.15,"k":-0.35},{"t":101.12,"b":0.85,"r":-0.5,"k":-0.45},{"t":101.2,"b":1,"r":-0.1,"k":-0.3},{"t":101.28,"b":1.53,"r":-0.55,"k":-0.5},{"t":101.36,"b":0.82,"r":0.1,"k":-0.35},{"t":101.44,"b":0.75,"r":-0.4,"k":-0.55},{"t":101.52,"b":0.92,"r":0.05,"k":-0.3},{"t":101.6,"b":1,"r":-0.3,"k":-0.45},{"t":101.68,"b":1.34,"r":0.25,"k":-0.25},{"t":101.76,"b":0.82,"r":-0.5,"k":-0.4},{"t":101.84,"b":0.75,"r":0.1,"k":-0.3},{"t":101.92,"b":0.9,"r":-0.35,"k":-0.45},{"t":102,"b":0.85,"r":0.05,"k":-0.3},{"t":102.08,"b":1,"r":-0.6,"k":-0.5},{"t":102.16,"b":1.6,"r":0,"k":-0.25},{"t":102.24,"b":0.82,"r":-0.4,"k":-0.4},{"t":102.32,"b":0.75,"r":0.2,"k":-0.3},{"t":102.4,"b":0.9,"r":-0.45,"k":-0.45},{"t":102.48,"b":0.85,"r":0,"k":-0.3},{"t":102.56,"b":1,"r":-0.55,"k":-0.5},{"t":102.64,"b":1.55,"r":0.1,"k":-0.3},{"t":102.72,"b":0.82,"r":-0.3,"k":-0.45},{"t":102.8,"b":0.75,"r":0.05,"k":-0.25},{"t":102.88,"b":0.9,"r":-0.5,"k":-0.5},{"t":102.96,"b":0.85,"r":-0.05,"k":-0.35},{"t":103.04,"b":1,"r":-0.6,"k":-0.55},{"t":103.12,"b":1.45,"r":0,"k":-0.8},{"t":103.2,"b":0.82,"r":-0.45,"k":-0.4},{"t":103.28,"b":0.75,"r":0.1,"k":-0.3},{"t":103.36,"b":0.9,"r":-0.35,"k":-0.5},{"t":103.44,"b":0.85,"r":0.05,"k":-0.3},{"t":103.52,"b":1,"r":-0.5,"k":-0.45},{"t":103.6,"b":1.4,"r":0.3,"k":-0.3},{"t":103.68,"b":0.82,"r":-0.4,"k":-0.5},{"t":103.76,"b":0.75,"r":0,"k":-0.25},{"t":103.84,"b":0.9,"r":-0.55,"k":-0.4},{"t":103.92,"b":0.85,"r":0.1,"k":-0.2},{"t":104,"b":1,"r":-0.3,"k":-0.45},{"t":104.08,"b":1.55,"r":0.15,"k":-0.3},{"t":104.16,"b":0.82,"r":-0.5,"k":-0.5},{"t":104.24,"b":0.75,"r":0,"k":-0.3},{"t":104.32,"b":0.9,"r":-0.4,"k":-0.45},{"t":104.4,"b":0.85,"r":0.05,"k":-0.25},{"t":104.48,"b":1,"r":-0.55,"k":-0.4},{"t":104.56,"b":1.4,"r":0.1,"k":-0.3},{"t":104.64,"b":0.82,"r":-0.4,"k":-0.45},{"t":104.72,"b":0.75,"r":0.15,"k":-0.25},{"t":104.8,"b":0.9,"r":-0.35,"k":-0.4},{"t":104.88,"b":0.85,"r":0,"k":-0.2},{"t":104.96,"b":0.92,"r":-0.5,"k":-0.45},{"t":105.04,"b":1,"r":0.2,"k":-0.3},{"t":105.12,"b":1.65,"r":-0.3,"k":-0.45},{"t":105.2,"b":0.82,"r":0.1,"k":-0.25},{"t":105.28,"b":0.75,"r":-0.55,"k":-0.4},{"t":105.36,"b":0.9,"r":0.05,"k":-0.2},{"t":105.44,"b":0.85,"r":-0.4,"k":-0.45},{"t":105.52,"b":1,"r":0.3,"k":-0.25},{"t":105.6,"b":1.55,"r":-0.35,"k":-0.5},{"t":105.68,"b":0.82,"r":0.1,"k":-0.3},{"t":105.76,"b":0.75,"r":-0.5,"k":-0.45},{"t":105.84,"b":0.9,"r":0,"k":-0.2},{"t":105.92,"b":0.85,"r":-0.45,"k":-0.4},{"t":106,"b":1,"r":0.15,"k":-0.25},{"t":106.08,"b":1.65,"r":-0.3,"k":-0.45},{"t":106.16,"b":0.82,"r":0.05,"k":-0.2},{"t":106.24,"b":0.75,"r":-0.55,"k":-0.4},{"t":106.32,"b":0.9,"r":0.1,"k":-0.25},{"t":106.4,"b":0.85,"r":-0.35,"k":-0.45},{"t":106.48,"b":1,"r":0.2,"k":-0.2},{"t":106.56,"b":1.55,"r":-0.4,"k":-0.5},{"t":106.64,"b":0.82,"r":0,"k":-0.3},{"t":106.72,"b":0.75,"r":-0.5,"k":-0.4},{"t":106.8,"b":0.9,"r":0.1,"k":-0.2},{"t":106.88,"b":0.85,"r":-0.3,"k":-0.35},{"t":106.96,"b":1,"r":0,"k":-0.15},{"t":107.04,"b":1.65,"r":-0.45,"k":-0.35},{"t":107.12,"b":0.82,"r":0.1,"k":-0.2},{"t":107.2,"b":0.75,"r":-0.35,"k":-0.3},{"t":107.28,"b":0.9,"r":0.05,"k":-0.15},{"t":107.36,"b":0.85,"r":-0.5,"k":-0.35},{"t":107.44,"b":1,"r":0.1,"k":-0.2},{"t":107.52,"b":1.5,"r":-0.4,"k":-0.35},{"t":107.6,"b":0.82,"r":0.05,"k":-0.15},{"t":107.68,"b":0.75,"r":-0.3,"k":-0.3},{"t":107.76,"b":0.9,"r":0,"k":-0.15},{"t":107.84,"b":0.85,"r":-0.55,"k":-0.35},{"t":107.92,"b":1,"r":0.1,"k":-0.2},{"t":108,"b":1.5,"r":-0.8,"k":-0.3},{"t":108.08,"b":0.82,"r":0,"k":-0.15},{"t":108.16,"b":0.75,"r":-0.35,"k":-0.3},{"t":108.24,"b":0.9,"r":0.05,"k":-0.2},{"t":108.32,"b":0.85,"r":-0.4,"k":-0.35},{"t":108.4,"b":1,"r":0.15,"k":-0.15},{"t":108.48,"b":1.65,"r":-0.3,"k":-0.3},{"t":108.56,"b":0.82,"r":0.1,"k":-0.15},{"t":108.64,"b":0.75,"r":-0.45,"k":-0.3},{"t":108.72,"b":0.9,"r":0,"k":-0.2},{"t":108.8,"b":0.85,"r":-0.5,"k":-0.35},{"t":108.88,"b":1,"r":0.05,"k":-0.15},{"t":108.96,"b":1.45,"r":-0.4,"k":-0.3},{"t":109.04,"b":0.82,"r":0.1,"k":-0.2},{"t":109.12,"b":0.75,"r":-0.35,"k":-0.35},{"t":109.2,"b":0.9,"r":0,"k":-0.15},{"t":109.28,"b":0.85,"r":-0.5,"k":-0.3},{"t":109.36,"b":1,"r":0.05,"k":-0.2},{"t":109.44,"b":1.45,"r":-0.45,"k":-0.35},{"t":109.52,"b":0.82,"r":0.1,"k":-0.15},{"t":109.6,"b":0.75,"r":-0.4,"k":-0.3},{"t":109.68,"b":0.9,"r":0,"k":-0.2},{"t":109.76,"b":0.85,"r":-0.5,"k":-0.35},{"t":109.84,"b":1,"r":0,"k":-0.15},{"t":109.92,"b":1.45,"r":-0.65,"k":-0.35},{"t":110,"b":0.85,"r":-0.3,"k":-0.25}]},
"transform":[{"fold":["k","r","b"],"as":["s","v"]}],
"mark":{"type":"line","strokeWidth":1},
"encoding":{"x":{"field":"t","type":"quantitative","scale":{"domain":[100,110],"nice":false,"zero":false},"axis":{"title":null,"format":"d","labelOverlap":false,"values":[100,101,102,103,104,105,106,107,108,109,110],"labelExpr":"datum.value % 2 === 0 ? datum.label : ''","tickSize":{"condition":{"test":"datum.value % 2 !== 0","value":3},"value":6}}},
"y":{"field":"v","type":"quantitative","scale":{"domain":[-1.03,1.84],"nice":false,"zero":false},"axis":{"title":null,"format":"d","labelOverlap":false,"values":[-1,0,1],"tickSize":6}},
"color":{"field":"s","type":"nominal","scale":{"domain":["b","r","k"],"range":["#2e3192","#ed1c24","#231f20"]},"legend":null}}},
{"data":{"values":[{"s":100.2,"e":109.8,"m":105,"l":"Steady walking"}]},
"layer":[
{"mark":{"type":"rule","color":"#231f20","strokeWidth":1.5},"encoding":{"x":{"field":"s","type":"quantitative"},"x2":{"field":"e"},"y":{"datum":2.105}}},
{"mark":{"type":"point","shape":"triangle-left","filled":true,"size":100,"color":"#231f20","opacity":1,"xOffset":5},"encoding":{"x":{"field":"s","type":"quantitative"},"y":{"datum":2.105}}},
{"mark":{"type":"point","shape":"triangle-right","filled":true,"size":100,"color":"#231f20","opacity":1,"xOffset":-5},"encoding":{"x":{"field":"e","type":"quantitative"},"y":{"datum":2.105}}},
{"mark":{"type":"text","fontSize":20,"baseline":"middle"},"encoding":{"x":{"field":"m","type":"quantitative"},"y":{"datum":2.55},"text":{"field":"l"}}}]},
{"data":{"values":[{}]},"mark":{"type":"text","align":"left","baseline":"middle","fontSize":18.5,"lineHeight":21,"text":["Giant","anteater"]},"encoding":{"x":{"datum":110.39},"y":{"datum":0}}}
]},
{"width":467,"height":97,
"layer":[
{"data":{"values":[{"t":0,"b":0.95,"r":-0.35,"k":0.1},{"t":0.3,"b":0.92,"r":-0.55,"k":0.18},{"t":0.6,"b":0.9,"r":-0.4,"k":-0.1},{"t":0.9,"b":0.95,"r":-0.5,"k":0.05},{"t":1.2,"b":1,"r":-0.45,"k":-0.15},{"t":1.5,"b":0.93,"r":-0.4,"k":0.12},{"t":1.8,"b":0.95,"r":-0.55,"k":-0.1},{"t":2.1,"b":1.08,"r":-0.35,"k":0.15},{"t":2.4,"b":0.95,"r":-0.5,"k":-0.15},{"t":2.7,"b":0.97,"r":-0.45,"k":0.12},{"t":3,"b":0.92,"r":-0.55,"k":-0.12},{"t":3.3,"b":1,"r":-0.25,"k":0.22},{"t":3.6,"b":0.94,"r":-0.45,"k":-0.05},{"t":3.9,"b":0.98,"r":-0.5,"k":0.1},{"t":4.2,"b":0.92,"r":-0.35,"k":-0.1},{"t":4.5,"b":1.02,"r":-0.45,"k":0.2},{"t":4.8,"b":0.95,"r":-0.55,"k":-0.1},{"t":5.1,"b":0.98,"r":-0.4,"k":0.12},{"t":5.4,"b":0.93,"r":-0.5,"k":-0.15},{"t":5.7,"b":0.95,"r":-0.45,"k":0.1},{"t":6,"b":0.9,"r":-0.55,"k":-0.25},{"t":6.3,"b":0.98,"r":-0.4,"k":-0.05},{"t":6.6,"b":0.92,"r":-0.5,"k":-0.25},{"t":6.9,"b":0.88,"r":-0.35,"k":-0.1},{"t":7.2,"b":0.95,"r":-0.55,"k":-0.3},{"t":7.5,"b":0.85,"r":-0.45,"k":-0.15},{"t":7.8,"b":0.92,"r":-0.5,"k":-0.35},{"t":8.1,"b":1,"r":-0.4,"k":-0.2},{"t":8.4,"b":0.85,"r":-0.55,"k":-0.38},{"t":8.7,"b":1.05,"r":-0.3,"k":-0.15},{"t":9,"b":0.88,"r":-0.5,"k":-0.4},{"t":9.3,"b":0.92,"r":-0.45,"k":-0.2},{"t":9.6,"b":0.82,"r":-0.55,"k":-0.42},{"t":9.9,"b":0.88,"r":-0.4,"k":-0.25},{"t":10.2,"b":0.75,"r":-0.6,"k":-0.48},{"t":10.5,"b":0.95,"r":-0.45,"k":-0.3},{"t":10.8,"b":0.68,"r":-0.55,"k":-0.5},{"t":11.1,"b":1,"r":-0.4,"k":-0.25},{"t":11.4,"b":0.62,"r":-0.6,"k":-0.5},{"t":11.7,"b":1,"r":-0.35,"k":-0.3},{"t":12,"b":0.75,"r":-0.55,"k":-0.55},{"t":12.3,"b":1.05,"r":-0.4,"k":-0.2},{"t":12.6,"b":0.78,"r":-0.6,"k":-0.55},{"t":12.9,"b":0.95,"r":-0.45,"k":-0.15},{"t":13.2,"b":0.82,"r":-0.5,"k":-0.5},{"t":13.5,"b":1.05,"r":-0.35,"k":-0.1},{"t":13.8,"b":0.85,"r":-0.55,"k":-0.45},{"t":14.1,"b":1.05,"r":-0.4,"k":-0.15},{"t":14.4,"b":0.85,"r":-0.5,"k":-0.4},{"t":14.7,"b":1.1,"r":-0.3,"k":-0.05},{"t":15,"b":0.88,"r":-0.6,"k":-0.45},{"t":15.3,"b":1.1,"r":-0.4,"k":-0.2},{"t":15.6,"b":0.8,"r":-0.55,"k":-0.5},{"t":15.9,"b":0.95,"r":-0.4,"k":-0.3},{"t":16.2,"b":0.75,"r":-0.7,"k":-0.5},{"t":16.5,"b":0.9,"r":-0.45,"k":-0.25},{"t":16.8,"b":0.57,"r":-0.65,"k":-0.66},{"t":17.1,"b":0.9,"r":-0.4,"k":-0.3},{"t":17.4,"b":0.75,"r":-0.6,"k":-0.1},{"t":17.7,"b":0.95,"r":-0.45,"k":-0.5},{"t":18,"b":0.8,"r":-0.55,"k":-0.15},{"t":18.3,"b":0.95,"r":-0.4,"k":-0.05},{"t":18.6,"b":0.8,"r":-0.6,"k":-0.45},{"t":18.9,"b":0.92,"r":-0.4,"k":-0.2},{"t":19.2,"b":0.82,"r":-0.55,"k":-0.35},{"t":19.5,"b":0.9,"r":-0.45,"k":-0.1},{"t":19.8,"b":0.88,"r":-0.4,"k":0.04},{"t":20.1,"b":0.92,"r":-0.5,"k":-0.1},{"t":20.4,"b":0.88,"r":-0.42,"k":-0.3},{"t":20.7,"b":0.9,"r":-0.5,"k":-0.05},{"t":21,"b":0.87,"r":-0.45,"k":-0.4},{"t":21.3,"b":0.88,"r":-0.35,"k":-0.2},{"t":21.6,"b":0.86,"r":-0.5,"k":-0.05},{"t":21.9,"b":0.88,"r":-0.4,"k":-0.1},{"t":22.2,"b":0.87,"r":-0.5,"k":-0.35},{"t":22.5,"b":0.85,"r":-0.48,"k":-0.5},{"t":22.8,"b":0.8,"r":-0.5,"k":-0.5},{"t":23.1,"b":0.75,"r":-0.5,"k":-0.55},{"t":23.4,"b":0.7,"r":-0.52,"k":-0.5},{"t":23.7,"b":0.72,"r":-0.55,"k":-0.6},{"t":24,"b":0.68,"r":-0.6,"k":-0.5},{"t":24.3,"b":0.72,"r":-0.55,"k":-0.6},{"t":24.6,"b":0.65,"r":-0.5,"k":-0.5},{"t":24.9,"b":0.6,"r":-0.48,"k":-0.62},{"t":25.2,"b":0.46,"r":-0.45,"k":-0.8},{"t":25.5,"b":0.3,"r":-0.5,"k":-0.97},{"t":25.8,"b":0.1,"r":-0.45,"k":-0.85},{"t":26.1,"b":-0.05,"r":-0.4,"k":-0.72},{"t":26.4,"b":-0.15,"r":-0.35,"k":-0.9},{"t":26.7,"b":-0.24,"r":-0.28,"k":-0.8},{"t":27,"b":-0.25,"r":-0.3,"k":-0.85},{"t":27.3,"b":-0.24,"r":-0.28,"k":-0.92},{"t":27.6,"b":-0.25,"r":-0.3,"k":-0.82},{"t":27.9,"b":-0.23,"r":-0.27,"k":-0.9},{"t":28.2,"b":-0.24,"r":-0.29,"k":-0.85},{"t":28.5,"b":-0.22,"r":-0.27,"k":-0.92},{"t":28.8,"b":-0.24,"r":-0.3,"k":-0.85},{"t":29.1,"b":-0.22,"r":-0.28,"k":-0.88},{"t":29.4,"b":-0.23,"r":-0.27,"k":-0.9},{"t":29.7,"b":-0.22,"r":-0.3,"k":-0.84},{"t":30,"b":-0.2,"r":-0.27,"k":-0.88}]},
"transform":[{"fold":["k","r","b"],"as":["s","v"]}],
"mark":{"type":"line","strokeWidth":1},
"encoding":{"x":{"field":"t","type":"quantitative","scale":{"domain":[0,30],"nice":false,"zero":false},"axis":{"title":"Time (s)","titleFontSize":22,"titlePadding":6,"format":"d","labelOverlap":false,"values":[0,5,10,15,20,25,30],"labelExpr":"datum.value % 10 === 0 ? datum.label : ''","tickSize":{"condition":{"test":"datum.value % 10 !== 0","value":3},"value":6}}},
"y":{"field":"v","type":"quantitative","scale":{"domain":[-1.21,1.37],"nice":false,"zero":false},"axis":{"title":null,"format":"d","labelOverlap":false,"values":[-1,0,1],"tickSize":6}},
"color":{"field":"s","type":"nominal","scale":{"domain":["b","r","k"],"range":["#2e3192","#ed1c24","#231f20"]},"legend":null}}},
{"data":{"values":[{"s":0.28,"e":24.9,"m":14.0,"l":"Walk"},{"s":25.6,"e":28.6,"m":27.1,"l":"Pause"}]},
"layer":[
{"mark":{"type":"rule","color":"#231f20","strokeWidth":1.5},"encoding":{"x":{"field":"s","type":"quantitative"},"x2":{"field":"e"},"y":{"datum":1.52}}},
{"mark":{"type":"point","shape":"triangle-left","filled":true,"size":100,"color":"#231f20","opacity":1,"xOffset":5},"encoding":{"x":{"field":"s","type":"quantitative"},"y":{"datum":1.52}}},
{"mark":{"type":"point","shape":"triangle-right","filled":true,"size":100,"color":"#231f20","opacity":1,"xOffset":-5},"encoding":{"x":{"field":"e","type":"quantitative"},"y":{"datum":1.52}}},
{"mark":{"type":"text","fontSize":20,"baseline":"middle"},"encoding":{"x":{"field":"m","type":"quantitative"},"y":{"datum":1.94},"text":{"field":"l"}}}]},
{"data":{"values":[{}]},"mark":{"type":"text","align":"left","baseline":"middle","fontSize":18.5,"text":"Emu"},"encoding":{"x":{"datum":31.15},"y":{"datum":0.51}}}
]}
]
}
